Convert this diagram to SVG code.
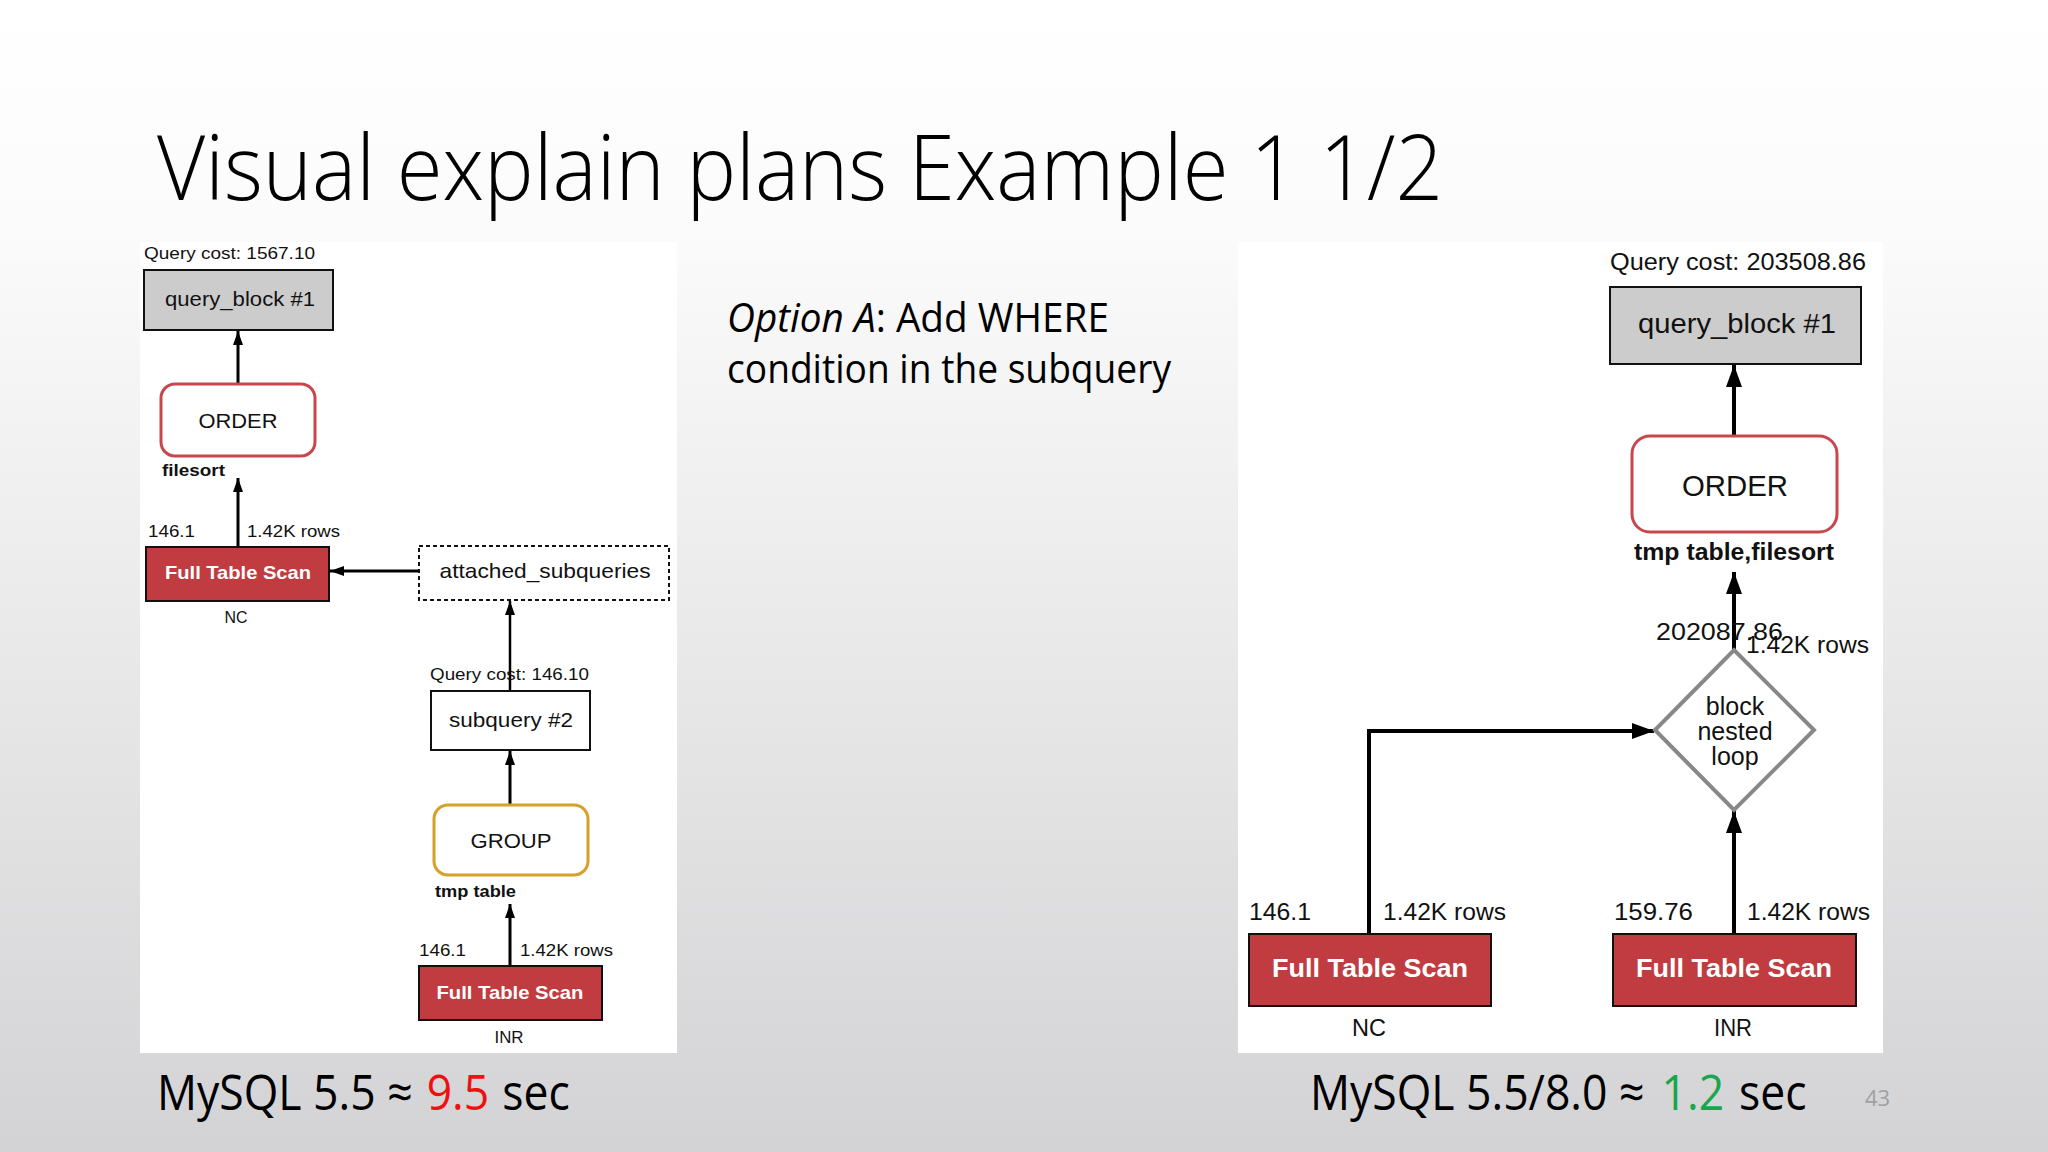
<svg xmlns="http://www.w3.org/2000/svg" width="2048" height="1152" viewBox="0 0 2048 1152">
<defs>
<linearGradient id="bg" x1="0" y1="0" x2="0" y2="1">
<stop offset="0" stop-color="#ffffff"/>
<stop offset="0.2" stop-color="#fbfbfb"/>
<stop offset="1" stop-color="#d3d3d5"/>
</linearGradient>
<marker id="ahS" viewBox="0 0 14 10" refX="14" refY="5" markerWidth="14" markerHeight="10" markerUnits="userSpaceOnUse" orient="auto">
<path d="M0,0 L14,5 L0,10 z" fill="#000"/>
</marker>
<marker id="ahL" viewBox="0 0 22 16" refX="22" refY="8" markerWidth="22" markerHeight="16" markerUnits="userSpaceOnUse" orient="auto">
<path d="M0,0 L22,8 L0,16 z" fill="#000"/>
</marker>
<style>
.slide{font-family:"Open Sans","Noto Sans",sans-serif;fill:#000}
.d{font-family:"Liberation Sans",Arial,sans-serif;fill:#111}
.lb{font-weight:bold}
.fts{fill:#c13c40;stroke:#111;stroke-width:2}
.fttxt{font-family:"Liberation Sans",Arial,sans-serif;font-weight:bold;fill:#fff}
.qb{fill:#cccccc;stroke:#111;stroke-width:2}
.box{fill:#fff;stroke:#111;stroke-width:2}
.ord{fill:#fff;stroke:#c9474c;stroke-width:3}
.grp{fill:#fff;stroke:#d6a02a;stroke-width:3}
.edgeS{stroke:#000;stroke-width:3;fill:none;marker-end:url(#ahS)}
.edgeL{stroke:#000;stroke-width:4;fill:none;marker-end:url(#ahL)}
</style>
</defs>
<rect x="0" y="0" width="2048" height="1152" fill="url(#bg)"/>

<text class="slide" x="157" y="200" font-size="90" font-weight="300" textLength="1286" lengthAdjust="spacingAndGlyphs">Visual explain plans Example 1 1/2</text>

<g id="optionA">
<text class="slide" x="727" y="332" font-size="40" textLength="382" lengthAdjust="spacingAndGlyphs"><tspan font-style="italic">Option A</tspan>: Add WHERE</text>
<text class="slide" x="727" y="383" font-size="40" textLength="444" lengthAdjust="spacingAndGlyphs">condition in the subquery</text>
</g>

<!-- panels -->
<rect x="140" y="242" width="537" height="811" fill="#fff"/>
<rect x="1238" y="242" width="645" height="811" fill="#fff"/>

<!-- connectors -->
<g id="connectors">
<line class="edgeS" x1="238" y1="384" x2="238" y2="331"/>
<line class="edgeS" x1="238" y1="547" x2="238" y2="478"/>
<line class="edgeS" x1="419" y1="571" x2="330" y2="571"/>
<line x1="510" y1="691" x2="510" y2="601" stroke="#000" stroke-width="2.5" marker-end="url(#ahS)"/>
<line class="edgeS" x1="510" y1="805" x2="510" y2="751"/>
<line class="edgeS" x1="510" y1="966" x2="510" y2="904"/>

<line class="edgeL" x1="1734" y1="436" x2="1734" y2="365"/>
<line class="edgeL" x1="1734" y1="650" x2="1734" y2="572"/>
<polyline class="edgeL" points="1369,934 1369,731 1654,731"/>
<line class="edgeL" x1="1734" y1="934" x2="1734" y2="811"/>
</g>

<!-- left diagram -->
<g id="L_qb1">
<text class="d" x="144" y="259" font-size="17" textLength="171" lengthAdjust="spacingAndGlyphs">Query cost: 1567.10</text>
<rect class="qb" x="144" y="270" width="189" height="60"/>
<text class="d" x="240" y="306" font-size="21" text-anchor="middle" textLength="150" lengthAdjust="spacingAndGlyphs">query_block #1</text>
</g>
<g id="L_order">
<rect class="ord" x="161" y="384" width="154" height="72" rx="14"/>
<text class="d" x="238" y="428" font-size="21" text-anchor="middle" textLength="79" lengthAdjust="spacingAndGlyphs">ORDER</text>
<text class="d lb" x="162" y="476" font-size="17" textLength="63" lengthAdjust="spacingAndGlyphs">filesort</text>
</g>
<g id="L_fts_nc">
<text class="d" x="148" y="537" font-size="17" textLength="47" lengthAdjust="spacingAndGlyphs">146.1</text>
<text class="d" x="247" y="537" font-size="17" textLength="93" lengthAdjust="spacingAndGlyphs">1.42K rows</text>
<rect class="fts" x="146" y="547" width="183" height="54"/>
<text class="fttxt" x="238" y="579" font-size="19" text-anchor="middle" textLength="146" lengthAdjust="spacingAndGlyphs">Full Table Scan</text>
<text class="d" x="236" y="623" font-size="17" text-anchor="middle" textLength="23" lengthAdjust="spacingAndGlyphs">NC</text>
</g>
<g id="L_attached">
<rect x="419" y="546" width="250" height="54" fill="#fff" stroke="#111" stroke-width="2" stroke-dasharray="4,3"/>
<text class="d" x="545" y="578" font-size="21" text-anchor="middle" textLength="211" lengthAdjust="spacingAndGlyphs">attached_subqueries</text>
</g>
<g id="L_sub2">
<text class="d" x="430" y="680" font-size="17" textLength="159" lengthAdjust="spacingAndGlyphs">Query cost: 146.10</text>
<rect class="box" x="431" y="691" width="159" height="59"/>
<text class="d" x="511" y="727" font-size="21" text-anchor="middle" textLength="124" lengthAdjust="spacingAndGlyphs">subquery #2</text>
</g>
<g id="L_group">
<rect class="grp" x="434" y="805" width="154" height="70" rx="14"/>
<text class="d" x="511" y="848" font-size="21" text-anchor="middle" textLength="81" lengthAdjust="spacingAndGlyphs">GROUP</text>
<text class="d lb" x="435" y="897" font-size="17" textLength="81" lengthAdjust="spacingAndGlyphs">tmp table</text>
</g>
<g id="L_fts_inr">
<text class="d" x="419" y="956" font-size="17" textLength="47" lengthAdjust="spacingAndGlyphs">146.1</text>
<text class="d" x="520" y="956" font-size="17" textLength="93" lengthAdjust="spacingAndGlyphs">1.42K rows</text>
<rect class="fts" x="419" y="966" width="183" height="54"/>
<text class="fttxt" x="510" y="999" font-size="19" text-anchor="middle" textLength="147" lengthAdjust="spacingAndGlyphs">Full Table Scan</text>
<text class="d" x="509" y="1043" font-size="17" text-anchor="middle" textLength="29" lengthAdjust="spacingAndGlyphs">INR</text>
</g>

<!-- right diagram -->
<g id="R_qb1">
<text class="d" x="1610" y="270" font-size="23" textLength="256" lengthAdjust="spacingAndGlyphs">Query cost: 203508.86</text>
<rect class="qb" x="1610" y="287" width="251" height="77"/>
<text class="d" x="1737" y="333" font-size="28" text-anchor="middle" textLength="198" lengthAdjust="spacingAndGlyphs">query_block #1</text>
</g>
<g id="R_order">
<rect class="ord" x="1632" y="436" width="205" height="96" rx="18" stroke-width="4"/>
<text class="d" x="1735" y="496" font-size="29" text-anchor="middle" textLength="106" lengthAdjust="spacingAndGlyphs">ORDER</text>
<text class="d lb" x="1734" y="560" font-size="23" text-anchor="middle" textLength="200" lengthAdjust="spacingAndGlyphs">tmp table,filesort</text>
</g>
<g id="R_bnl">
<text class="d" x="1656" y="640" font-size="23" textLength="127" lengthAdjust="spacingAndGlyphs">202087.86</text>
<text class="d" x="1746" y="653" font-size="23" textLength="123" lengthAdjust="spacingAndGlyphs">1.42K rows</text>
<polygon points="1734,650 1814,730 1734,810 1655,730" fill="#fff" stroke="#888" stroke-width="4"/>
<text class="d" x="1735" y="715" font-size="25" text-anchor="middle" fill="#222">block</text>
<text class="d" x="1735" y="740" font-size="25" text-anchor="middle" fill="#222">nested</text>
<text class="d" x="1735" y="765" font-size="25" text-anchor="middle" fill="#222">loop</text>
</g>
<g id="R_fts_nc">
<text class="d" x="1249" y="920" font-size="23" textLength="62" lengthAdjust="spacingAndGlyphs">146.1</text>
<text class="d" x="1383" y="920" font-size="23" textLength="123" lengthAdjust="spacingAndGlyphs">1.42K rows</text>
<rect class="fts" x="1249" y="934" width="242" height="72" stroke-width="2.5"/>
<text class="fttxt" x="1370" y="977" font-size="26" text-anchor="middle" textLength="196" lengthAdjust="spacingAndGlyphs">Full Table Scan</text>
<text class="d" x="1369" y="1036" font-size="24" text-anchor="middle" textLength="34" lengthAdjust="spacingAndGlyphs">NC</text>
</g>
<g id="R_fts_inr">
<text class="d" x="1614" y="920" font-size="23" textLength="79" lengthAdjust="spacingAndGlyphs">159.76</text>
<text class="d" x="1747" y="920" font-size="23" textLength="123" lengthAdjust="spacingAndGlyphs">1.42K rows</text>
<rect class="fts" x="1613" y="934" width="243" height="72" stroke-width="2.5"/>
<text class="fttxt" x="1734" y="977" font-size="26" text-anchor="middle" textLength="196" lengthAdjust="spacingAndGlyphs">Full Table Scan</text>
<text class="d" x="1733" y="1036" font-size="24" text-anchor="middle" textLength="38" lengthAdjust="spacingAndGlyphs">INR</text>
</g>

<!-- captions -->
<g id="caption_left" transform="translate(157,1110) scale(0.89,1)">
<text class="slide" x="0" y="0" font-size="50">MySQL 5.5 ≈</text>
<text class="slide" x="303" y="0" font-size="50" style="fill:#ee1111">9.5</text>
<text class="slide" x="388" y="0" font-size="50">sec</text>
</g>
<g id="caption_right" transform="translate(1310,1110) scale(0.89,1)">
<text class="slide" x="0" y="0" font-size="50">MySQL 5.5/8.0 ≈</text>
<text class="slide" x="395" y="0" font-size="50" style="fill:#1aa64a">1.2</text>
<text class="slide" x="482" y="0" font-size="50">sec</text>
</g>
<text class="slide" x="1865" y="1106" font-size="22" style="fill:#a0a0a0">43</text>
</svg>
